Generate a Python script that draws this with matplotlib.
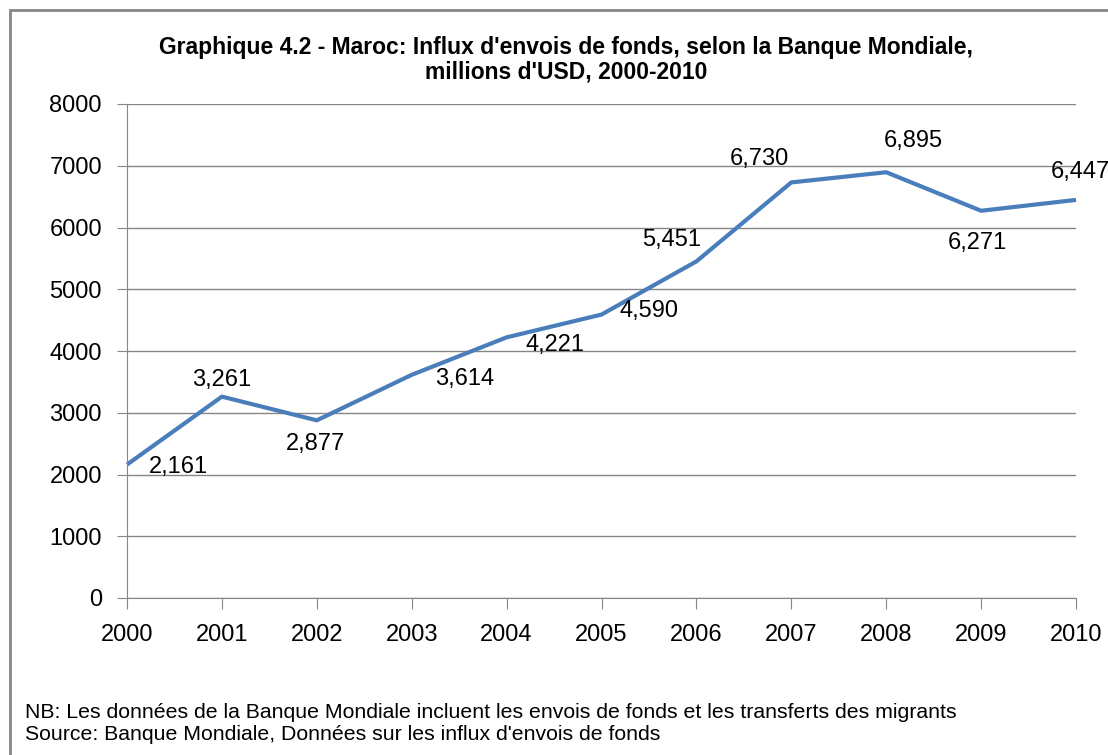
import matplotlib.pyplot as plt
from matplotlib.patches import Rectangle

annees = [2000, 2001, 2002, 2003, 2004, 2005, 2006, 2007, 2008, 2009, 2010]
envois = [2161, 3261, 2877, 3614, 4221, 4590, 5451, 6730, 6895, 6271, 6447]
etiquettes = ["2,161", "3,261", "2,877", "3,614", "4,221", "4,590",
              "5,451", "6,730", "6,895", "6,271", "6,447"]
# decalage des etiquettes (pixels) par rapport au point
decalages = [(51, -2), (0, 17), (-1, -24), (53, -4), (48, -8), (48, 4),
             (-25, 21), (-32, 23), (27, 31), (-4, -32), (4, 28)]

titre = "Graphique 4.2 - Maroc: Influx d'envois de fonds, selon la Banque Mondiale,\nmillions d'USD, 2000-2010"
note = ("NB: Les données de la Banque Mondiale incluent les envois de fonds et les transferts des migrants\n"
        "Source: Banque Mondiale, Données sur les influx d'envois de fonds")

plt.rcParams['font.family'] = ['Liberation Sans', 'DejaVu Sans']

fig = plt.figure(figsize=(11.08, 7.55), dpi=100)
fig.patches.append(Rectangle((10 / 1108, -0.1), 1.2, 1 - 10 / 755 + 0.1,
                             transform=fig.transFigure, fill=False,
                             edgecolor='#868686', linewidth=2))

ax = fig.add_axes([127 / 1108, 1 - 598 / 755, (1076 - 127) / 1108, (598 - 104) / 755])
ax.plot(annees, envois, color='#4A7EBB', linewidth=3, solid_capstyle='butt', clip_on=False)

for x, y, txt, (dx, dy) in zip(annees, envois, etiquettes, decalages):
    ax.annotate(txt, (x, y), xytext=(dx, dy), textcoords='offset pixels',
                ha='center', va='center', fontsize=17, color='black',
                annotation_clip=False)

ax.set_xlim(2000, 2010)
ax.set_ylim(0, 8000)
ax.set_xticks(annees)
ax.set_yticks(range(0, 8001, 1000))
ax.yaxis.grid(True, color='#868686', linewidth=1)
ax.set_axisbelow(True)
for s in ['top', 'right']:
    ax.spines[s].set_visible(False)
for s in ['left', 'bottom']:
    ax.spines[s].set_color('#868686')
ax.tick_params(axis='y', colors='#868686', labelcolor='black', labelsize=17,
               length=7, direction='out', pad=11)
ax.tick_params(axis='x', colors='#868686', labelcolor='black', labelsize=17,
               length=8, direction='out', pad=11)

fig.text(566 / 1108, 1 - 60 / 755, titre, ha='center', va='center',
         fontsize=16.5, fontweight='bold', linespacing=1.08)
fig.text(25 / 1108, 1 - 723 / 755, note, ha='left', va='center',
         fontsize=15.3, linespacing=1.2)

plt.savefig('out.png', dpi=100)
